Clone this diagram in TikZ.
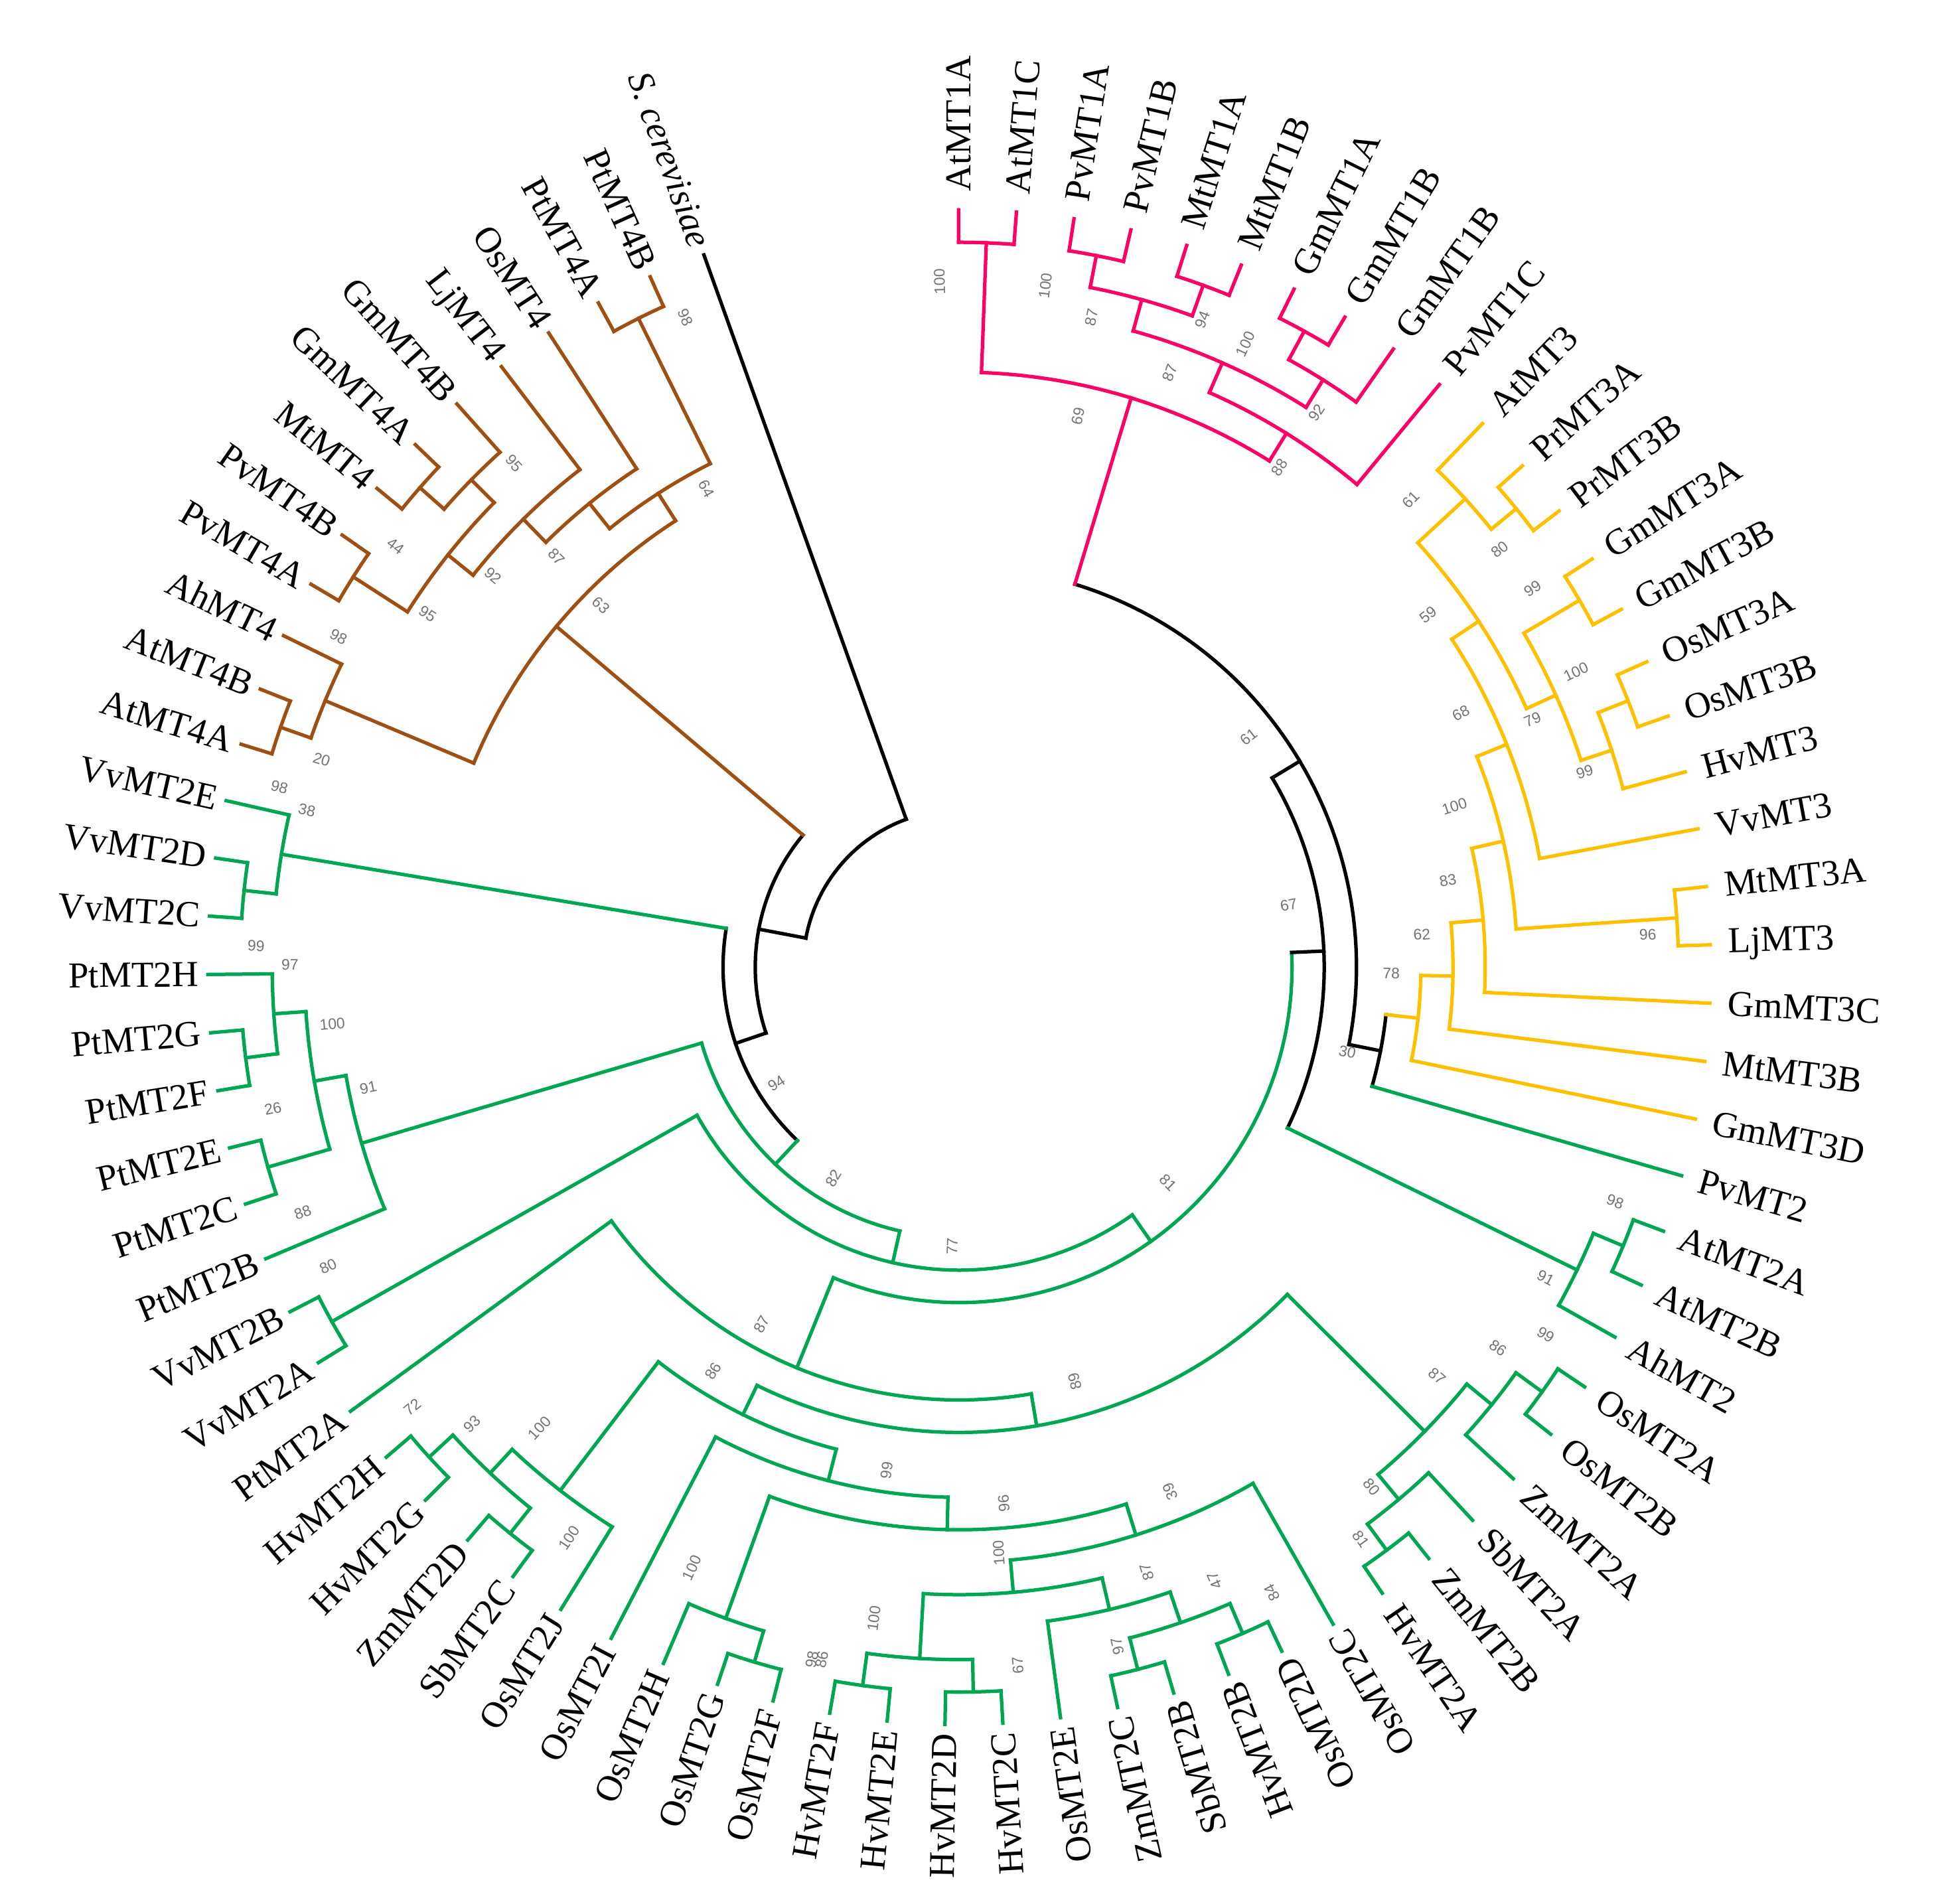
\documentclass[tikz,border=0pt]{standalone}
\usepackage{fontspec}
\setmainfont{Liberation Serif}
\newfontfamily\bootfont{Liberation Sans}

\definecolor{mtpink}{RGB}{255,0,102}
\definecolor{mtyellow}{RGB}{255,192,0}
\definecolor{mtgreen}{RGB}{0,166,81}
\definecolor{mtbrown}{RGB}{158,80,18}
\definecolor{bootgray}{RGB}{115,115,115}

\tikzset{
  leaf/.style={inner sep=0pt, font=\fontsize{16.8}{18}\selectfont},
  boot/.style={inner sep=0pt, text=bootgray, font=\bootfont\fontsize{7}{8}\selectfont}
}

\begin{document}
\begin{tikzpicture}[x=0.2mm, y=0.2mm, yscale=1.008, line width=1.6pt, line cap=rect]
  \useasboundingbox (-774.5,-750) rectangle (793.5,774.8);

  % Arcos de los clados: angulo inicial / angulo final / radio / color
  \foreach \pa/\pb/\rr/\cc in {
    90.05/85.63/580.7/mtpink, 81.21/76.80/580.7/mtpink, 72.38/67.96/580.7/mtpink,
    79.01/70.17/554.7/mtpink, 63.54/59.12/580.7/mtpink, 61.33/54.71/554.7/mtpink,
    74.59/58.02/528.7/mtpink, 66.31/50.29/502.7/mtpink, 87.84/58.30/476.7/mtpink,
    41.45/37.03/580.7/mtyellow, 45.87/39.24/554.7/mtyellow, 32.62/28.20/580.7/mtyellow,
    23.78/19.36/580.7/mtyellow, 21.57/14.94/554.7/mtyellow, 30.41/18.26/528.7/mtyellow,
    42.56/24.34/502.7/mtyellow, 33.45/10.53/476.7/mtyellow, 6.11/1.69/580.7/mtyellow,
    21.99/3.90/450.7/mtyellow, 12.95/-2.73/424.7/mtyellow, 5.11/-7.15/398.7/mtyellow,
    -1.02/-11.56/372.7/mtyellow,
    -6.29/-15.98/346.7/black, 73.07/-11.14/320.7/black, 30.97/-25.93/294.7/black,
    -20.40/-24.82/580.7/mtgreen, -22.61/-29.24/554.7/mtgreen, -33.65/-38.07/580.7/mtgreen,
    -35.86/-42.49/554.7/mtgreen, -51.33/-55.74/580.7/mtgreen, -46.91/-53.54/554.7/mtgreen,
    -39.18/-50.23/528.7/mtgreen, -64.58/-69.00/580.7/mtgreen, -73.42/-77.83/580.7/mtgreen,
    -66.79/-75.63/554.7/mtgreen, -71.21/-82.25/528.7/mtgreen, -86.67/-91.09/580.7/mtgreen,
    -95.51/-99.92/580.7/mtgreen, -88.88/-97.72/554.7/mtgreen, -76.73/-93.30/502.7/mtgreen,
    -60.16/-85.02/476.7/mtgreen, -104.34/-108.76/580.7/mtgreen, -106.55/-113.18/554.7/mtgreen,
    -72.59/-109.87/450.7/mtgreen, -91.23/-117.60/424.7/mtgreen, -126.43/-130.85/580.7/mtgreen,
    -135.27/-139.69/580.7/mtgreen, -128.64/-137.48/554.7/mtgreen, -122.01/-133.06/528.7/mtgreen,
    -104.42/-127.54/398.7/mtgreen, -44.70/-115.98/372.7/mtgreen, -80.34/-144.10/346.7/mtgreen,
    2.52/-112.22/268.7/mtgreen, -148.52/-152.94/580.7/mtgreen, -54.85/-150.73/242.7/mtgreen,
    -161.78/-166.19/580.7/mtgreen, -170.61/-175.03/580.7/mtgreen, -172.82/-179.45/554.7/mtgreen,
    -163.99/-176.14/528.7/mtgreen, -157.36/-170.06/502.7/mtgreen, -102.79/-163.71/216.7/mtgreen,
    -183.87/-188.28/580.7/mtgreen, -186.08/-192.70/554.7/mtgreen,
    -133.25/-189.39/190.7/black,
    -197.12/-201.54/580.7/mtbrown, -199.33/-205.96/554.7/mtbrown, -210.37/-214.79/580.7/mtbrown,
    -219.21/-223.63/580.7/mtbrown, -221.42/-228.05/554.7/mtbrown, -212.58/-224.74/528.7/mtbrown,
    -218.66/-232.46/502.7/mtbrown, -225.56/-236.88/476.7/mtbrown, -241.30/-245.72/580.7/mtbrown,
    -231.22/-243.51/450.7/mtbrown, -202.64/-237.37/424.7/mtbrown,
    -161.32/-220.01/164.7/black, -190.66/-250.14/126/black}
    \draw[\cc] (\pa:\rr) arc[start angle=\pa, end angle=\pb, radius=\rr];

  % Ramas internas: angulo / radio del padre / radio del nodo / color
  \foreach \pa/\ra/\rb/\cc in {
    87.84/476.7/580.7/mtpink, 79.01/554.7/580.7/mtpink, 70.17/554.7/580.7/mtpink,
    74.59/528.7/554.7/mtpink, 61.33/554.7/580.7/mtpink, 58.02/528.7/554.7/mtpink,
    66.31/502.7/528.7/mtpink, 58.30/476.7/502.7/mtpink, 73.07/320.7/476.7/mtpink,
    39.24/554.7/580.7/mtyellow, 42.56/502.7/554.7/mtyellow, 30.41/528.7/580.7/mtyellow,
    21.57/554.7/580.7/mtyellow, 18.26/528.7/554.7/mtyellow, 24.34/502.7/528.7/mtyellow,
    33.45/476.7/502.7/mtyellow, 21.99/450.7/476.7/mtyellow, 3.90/450.7/580.7/mtyellow,
    12.95/424.7/450.7/mtyellow, 5.11/398.7/424.7/mtyellow, -1.02/372.7/398.7/mtyellow,
    -6.29/346.7/372.7/mtyellow,
    -11.14/320.7/346.7/black, 30.97/294.7/320.7/black, 2.52/268.7/294.7/black,
    -22.61/554.7/580.7/mtgreen, -25.93/294.7/554.7/mtgreen, -35.86/554.7/580.7/mtgreen,
    -39.18/528.7/554.7/mtgreen, -53.54/554.7/580.7/mtgreen, -50.23/528.7/554.7/mtgreen,
    -44.70/372.7/528.7/mtgreen, -66.79/554.7/580.7/mtgreen, -75.63/554.7/580.7/mtgreen,
    -71.21/528.7/554.7/mtgreen, -76.73/502.7/528.7/mtgreen, -88.88/554.7/580.7/mtgreen,
    -97.72/554.7/580.7/mtgreen, -93.30/502.7/554.7/mtgreen, -85.02/476.7/502.7/mtgreen,
    -72.59/450.7/476.7/mtgreen, -106.55/554.7/580.7/mtgreen, -109.87/450.7/554.7/mtgreen,
    -91.23/424.7/450.7/mtgreen, -104.42/398.7/424.7/mtgreen, -128.64/554.7/580.7/mtgreen,
    -137.48/554.7/580.7/mtgreen, -133.06/528.7/554.7/mtgreen, -127.54/398.7/528.7/mtgreen,
    -115.98/372.7/398.7/mtgreen, -80.34/346.7/372.7/mtgreen, -112.22/268.7/346.7/mtgreen,
    -54.85/242.7/268.7/mtgreen, -150.73/242.7/580.7/mtgreen, -102.79/216.7/242.7/mtgreen,
    -163.99/528.7/580.7/mtgreen, -172.82/554.7/580.7/mtgreen, -176.14/528.7/554.7/mtgreen,
    -170.06/502.7/528.7/mtgreen, -163.71/216.7/502.7/mtgreen, -133.25/190.7/216.7/mtgreen,
    -186.08/554.7/580.7/mtgreen, -189.39/190.7/554.7/mtgreen,
    -161.32/164.7/190.7/black,
    -199.33/554.7/580.7/mtbrown, -202.64/424.7/554.7/mtbrown, -212.58/528.7/580.7/mtbrown,
    -221.42/554.7/580.7/mtbrown, -224.74/528.7/554.7/mtbrown, -218.66/502.7/528.7/mtbrown,
    -225.56/476.7/502.7/mtbrown, -231.22/450.7/476.7/mtbrown, -243.51/450.7/580.7/mtbrown,
    -237.37/424.7/450.7/mtbrown, -220.01/164.7/424.7/mtbrown,
    -190.66/126/164.7/black}
    \draw[\cc] (\pa:\ra) -- (\pa:\rb);

  % Hojas: nombre / radio del padre / color
  \foreach \nm/\rr/\cc [count=\k from 0] in {
    AtMT1A/580.7/mtpink, AtMT1C/580.7/mtpink, PvMT1A/580.7/mtpink, PvMT1B/580.7/mtpink,
    MtMT1A/580.7/mtpink, MtMT1B/580.7/mtpink, GmMT1A/580.7/mtpink, GmMT1B/580.7/mtpink,
    GmMT1B/554.7/mtpink, PvMT1C/502.7/mtpink,
    AtMT3/554.7/mtyellow, PrMT3A/580.7/mtyellow, PrMT3B/580.7/mtyellow, GmMT3A/580.7/mtyellow,
    GmMT3B/580.7/mtyellow, OsMT3A/580.7/mtyellow, OsMT3B/580.7/mtyellow, HvMT3/554.7/mtyellow,
    VvMT3/476.7/mtyellow, MtMT3A/580.7/mtyellow, LjMT3/580.7/mtyellow, GmMT3C/424.7/mtyellow,
    MtMT3B/398.7/mtyellow, GmMT3D/372.7/mtyellow,
    PvMT2/346.7/mtgreen, AtMT2A/580.7/mtgreen, AtMT2B/580.7/mtgreen, AhMT2/554.7/mtgreen,
    OsMT2A/580.7/mtgreen, OsMT2B/580.7/mtgreen, ZmMT2A/554.7/mtgreen, SbMT2A/554.7/mtgreen,
    ZmMT2B/580.7/mtgreen, HvMT2A/580.7/mtgreen, OsMT2C/476.7/mtgreen, OsMT2D/580.7/mtgreen,
    HvMT2B/580.7/mtgreen, SbMT2B/580.7/mtgreen, ZmMT2C/580.7/mtgreen, OsMT2E/528.7/mtgreen,
    HvMT2C/580.7/mtgreen, HvMT2D/580.7/mtgreen, HvMT2E/580.7/mtgreen, HvMT2F/580.7/mtgreen,
    OsMT2F/580.7/mtgreen, OsMT2G/580.7/mtgreen, OsMT2H/554.7/mtgreen, OsMT2I/424.7/mtgreen,
    OsMT2J/528.7/mtgreen, SbMT2C/580.7/mtgreen, ZmMT2D/580.7/mtgreen, HvMT2G/580.7/mtgreen,
    HvMT2H/580.7/mtgreen, PtMT2A/346.7/mtgreen, VvMT2A/580.7/mtgreen, VvMT2B/580.7/mtgreen,
    PtMT2B/502.7/mtgreen, PtMT2C/580.7/mtgreen, PtMT2E/580.7/mtgreen, PtMT2F/580.7/mtgreen,
    PtMT2G/580.7/mtgreen, PtMT2H/554.7/mtgreen, VvMT2C/580.7/mtgreen, VvMT2D/580.7/mtgreen,
    VvMT2E/554.7/mtgreen,
    AtMT4A/580.7/mtbrown, AtMT4B/580.7/mtbrown, AhMT4/554.7/mtbrown, PvMT4A/580.7/mtbrown,
    PvMT4B/580.7/mtbrown, MtMT4/580.7/mtbrown, GmMT4A/580.7/mtbrown, GmMT4B/554.7/mtbrown,
    LjMT4/502.7/mtbrown, OsMT4/476.7/mtbrown, PtMT4A/580.7/mtbrown, PtMT4B/580.7/mtbrown,
    {\itshape S. cerevisiae}/126/black}{
    \pgfmathsetmacro\ang{90.05-4.418*\k}
    \draw[\cc] (\ang:\rr) -- (\ang:606.7) coordinate (tip\k);
    \ifdim\ang pt>-58pt
      \node[leaf, anchor=west, rotate=\ang] (leaf\k) at (\ang:620) {\nm};
    \else
      \pgfmathsetmacro\rot{\ang+180}
      \node[leaf, anchor=east, rotate=\rot] (leaf\k) at (\ang:613) {\nm};
    \fi
  }

  % Valores de bootstrap (posicion en la imagen)
  \foreach \px/\py/\bv [count=\k] in {
    758.6/227.3/100, 844.0/230.7/100, 881.2/256.2/87, 970.9/258.1/94, 944.6/301.3/87,
    1005.6/277.8/100, 1063.0/333.2/92, 870.4/336.1/69, 1033.1/377.4/88,
    1008.4/595.2/61, 1040.5/730.6/67, 1087.9/849.5/30, 627.0/874.8/94,
    1139.2/403.4/61, 1211.1/443.7/80, 1237.4/475.3/99, 1153.2/496.3/59, 1272.5/542.4/100,
    1237.4/581.0/79, 1279.5/623.1/99, 1179.5/575.7/68, 1174.3/651.2/100, 1169.0/710.8/83,
    1330.4/754.6/96, 1148.0/754.6/62, 1123.4/786.2/78,
    1304.1/970.3/98, 1248.0/1031.7/91, 1248.0/1077.8/99, 1209.4/1088.4/86, 1160.3/1111.2/87,
    1107.6/1200.6/80, 1098.9/1242.7/81, 1026.9/1286.0/84,
    615.0/1069.5/87, 575.7/1107.1/86, 867.9/1115.6/89, 715.9/1187.4/99, 810.5/1214.0/96,
    944.9/1204.5/39, 806.4/1254.0/100, 926.1/1269.4/87, 980.7/1276.2/47, 558.7/1266.0/100,
    705.6/1307.0/100, 655.5/1340.0/98, 663.5/1340.0/86, 821.8/1344.6/67, 902.1/1329.2/97,
    264.9/1022.5/80, 333.2/1136.1/72, 381.1/1149.8/93, 435.7/1153.2/100, 459.7/1242.0/100,
    225.6/635.6/98, 247.8/654.3/38, 206.8/763.7/99, 234.1/779.1/97, 268.3/826.9/100,
    297.3/878.2/91, 220.4/895.3/26, 244.4/979.0/88,
    673.1/951.7/82, 768.8/1006.4/77, 943.1/955.1/81,
    553.5/256.3/98, 570.6/394.7/64, 485.3/488.7/63, 449.4/449.4/87, 398.2/464.8/92,
    415.2/374.2/95, 345.2/495.6/95, 319.5/440.9/44, 273.4/514.2/98, 259.7/613.3/20}{
    \pgfmathsetmacro\bx{\px-774.5}
    \pgfmathsetmacro\by{(781-\py)/1.008}
    \pgfmathsetmacro\ba{atan2(\by,\bx)}
    \pgfmathsetmacro\rot{and(\ba>-58,\ba<100) ? \ba : \ba+180}
    \node[boot, rotate=\rot] (boot\k) at (\bx,\by) {\bv};
  }
\end{tikzpicture}
\end{document}
